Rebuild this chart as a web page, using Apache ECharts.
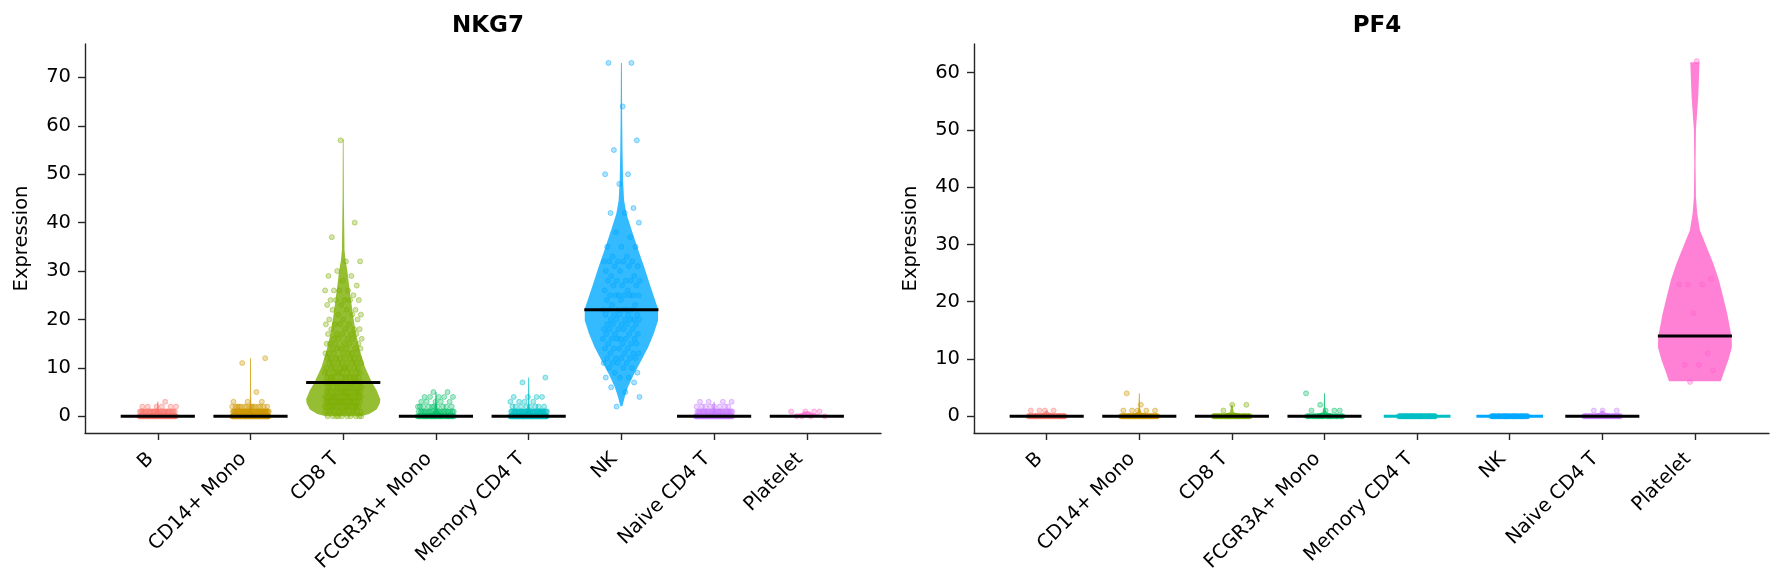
<!DOCTYPE html>
<html>
<head>
<meta charset="utf-8">
<script src="https://cdn.jsdelivr.net/npm/echarts@6/dist/echarts.min.js"></script>
<style>
html,body{margin:0;padding:0;background:#fff;}
#chart{width:1783px;height:583px;}
</style>
</head>
<body>
<div id="chart"></div>
<script>
// ---------- data ----------
const categories = ['B', 'CD14+ Mono', 'CD8 T', 'FCGR3A+ Mono', 'Memory CD4 T', 'NK', 'Naive CD4 T', 'Platelet'];
const genes = ['NKG7', 'PF4'];
const yTicksNKG7 = [0, 10, 20, 30, 40, 50, 60, 70];
const yTicksPF4 = [0, 10, 20, 30, 40, 50, 60];

// median expression per category (null = not drawn)
const nkg7Medians = [0, 0, 7, 0, 0, 22, 0, 0];
const pf4Medians = [0, 0, 0, 0, null, null, 0, 14];

// cell expression values per category: [value, number of cells]
const nkg7PointCounts = [
  [[0, 60], [1, 30], [2, 6], [3, 1]],
  [[0, 80], [1, 40], [2, 15], [3, 3], [5, 1], [11, 1], [12, 1]],
  [[0, 10], [1, 13], [2, 16], [3, 17], [4, 16], [5, 15], [6, 13], [7, 12], [8, 11], [9, 10], [10, 9], [11, 8], [12, 8], [13, 7], [14, 6], [15, 6], [16, 5], [17, 5], [18, 4], [19, 4], [20, 3], [21, 3], [22, 3], [23, 2], [24, 5], [25, 1], [26, 4], [27, 1], [28, 1], [29, 2], [30, 1], [32, 2], [37, 1], [40, 1], [57, 1]],
  [[0, 40], [1, 20], [2, 10], [3, 5], [4, 5], [5, 2]],
  [[0, 80], [1, 35], [2, 8], [3, 4], [4, 4], [7, 1], [8, 1]],
  [[2, 1], [4, 1], [5, 1], [6, 1], [7, 1], [8, 3], [9, 2], [10, 3], [11, 4], [12, 5], [13, 4], [14, 4], [15, 4], [16, 6], [17, 4], [18, 5], [19, 5], [20, 6], [21, 5], [22, 6], [23, 2], [24, 2], [25, 7], [26, 2], [27, 3], [28, 5], [29, 2], [30, 2], [31, 3], [32, 5], [33, 2], [35, 3], [37, 1], [38, 1], [40, 1], [42, 2], [43, 1], [48, 1], [50, 2], [55, 1], [57, 1], [64, 1], [73, 2]],
  [[0, 70], [1, 30], [2, 8], [3, 4]],
  [[0, 4], [1, 4]]
];
const pf4PointCounts = [
  [[0, 60], [1, 4]],
  [[0, 60], [1, 5], [2, 1], [4, 1]],
  [[0, 50], [1, 1], [2, 2]],
  [[0, 30], [1, 4], [2, 1], [4, 1]],
  [[0, 60]],
  [[0, 50]],
  [[0, 50], [1, 3]],
  [[6, 1], [8, 1], [9, 2], [11, 1], [18, 1], [23, 3], [24, 1], [62, 1]]
];

// violin outlines: [expression value, half width of the density (category units)]
const nkg7Violins = [
  [[0, 0.38], [0.25, 0.12], [0.6, 0.03], [1.2, 0.012], [3, 0.006]],
  [[0, 0.38], [0.25, 0.15], [0.6, 0.04], [1.2, 0.015], [2.5, 0.008], [5, 0.006], [12, 0.005]],
  [[0, 0.19], [0.5, 0.28], [1.4, 0.36], [2.7, 0.395], [3.5, 0.40], [5.4, 0.36], [7.0, 0.31], [10.2, 0.234], [13.6, 0.18], [17.1, 0.137], [20.5, 0.108], [24.7, 0.079], [27.4, 0.061], [30.2, 0.043], [32.2, 0.025], [34.3, 0.014], [44.6, 0.007], [57.2, 0.004]],
  [[0, 0.38], [0.25, 0.15], [0.6, 0.05], [1.2, 0.02], [2.5, 0.01], [5, 0.006]],
  [[0, 0.38], [0.25, 0.14], [0.6, 0.04], [1.2, 0.015], [2.5, 0.008], [8, 0.005]],
  [[2.1, 0.008], [2.3, 0.014], [4.0, 0.036], [6.1, 0.072], [8.8, 0.137], [11.6, 0.216], [14.3, 0.29], [17.1, 0.35], [19.8, 0.395], [22.2, 0.395], [26.7, 0.316], [30.9, 0.245], [35.0, 0.17], [39.1, 0.10], [41.9, 0.054], [44.6, 0.029], [48.8, 0.018], [55, 0.012], [62, 0.008], [73, 0.005]],
  [[0, 0.38], [0.25, 0.12], [0.6, 0.03], [1.2, 0.012], [3, 0.006]],
  [[0, 0.4], [0.3, 0.15], [0.7, 0.05], [1, 0.03]]
];
const pf4Violins = [
  [[0, 0.38], [0.3, 0.1], [0.7, 0.02], [1, 0.01]],
  [[0, 0.38], [0.3, 0.1], [0.7, 0.02], [1.5, 0.008], [4, 0.005]],
  [[0, 0.38], [0.3, 0.1], [0.7, 0.02], [2, 0.006]],
  [[0, 0.38], [0.3, 0.1], [0.7, 0.02], [1.5, 0.008], [4, 0.005]],
  [[0, 0.36]],
  [[0, 0.36]],
  [[0, 0.38], [0.3, 0.1], [0.7, 0.02], [1, 0.01]],
  [[6.1, 0.28], [8.0, 0.32], [9.8, 0.36], [12.1, 0.40], [13.9, 0.396], [17.9, 0.349], [20.8, 0.306], [23.8, 0.259], [26.7, 0.198], [29.6, 0.126], [32.5, 0.054], [35.4, 0.025], [38.3, 0.011], [44.2, 0.007], [50.0, 0.011], [55.8, 0.036], [61.8, 0.05]]
];

// ---------- styling ----------
const palette = ['#F8766D', '#CD9600', '#7CAE00', '#00BE67', '#00BFC4', '#00A9FF', '#C77CFF', '#FF61CC'];
const FONT = 'DejaVu Sans';
const AXIS_COLOR = '#262626';
const LABEL_SIZE = 19.5;

function rgba(hex, a) {
  const n = parseInt(hex.slice(1), 16);
  return 'rgba(' + ((n >> 16) & 255) + ',' + ((n >> 8) & 255) + ',' + (n & 255) + ',' + a + ')';
}

const catIdx = categories.map((c, i) => i);

function xAxisFor(gi) {
  return {
    gridIndex: gi, type: 'value', min: -0.785, max: 7.8,
    axisLine: { show: true, onZero: false, lineStyle: { color: AXIS_COLOR, width: 1.4 } },
    axisTick: { show: true, customValues: catIdx, length: 7, lineStyle: { color: AXIS_COLOR, width: 1.4 } },
    axisLabel: {
      customValues: catIdx, formatter: v => categories[Math.round(v)],
      rotate: 45, fontSize: LABEL_SIZE, fontFamily: FONT, color: '#000', margin: 16,
      padding: [0, 10, 0, 0]
    },
    splitLine: { show: false }
  };
}
function yAxisFor(gi, min, max, ticks) {
  return {
    gridIndex: gi, type: 'value', min: min, max: max,
    name: 'Expression', nameLocation: 'middle', nameRotate: 90, nameGap: 53,
    nameTextStyle: { fontSize: LABEL_SIZE, fontFamily: FONT, color: '#000' },
    axisLine: { show: true, onZero: false, lineStyle: { color: AXIS_COLOR, width: 1.4 } },
    axisTick: { show: true, customValues: ticks, length: 7, lineStyle: { color: AXIS_COLOR, width: 1.4 } },
    axisLabel: { customValues: ticks, fontSize: LABEL_SIZE, fontFamily: FONT, color: '#000', margin: 14 },
    splitLine: { show: false }
  };
}

const series = [];
function buildPanel(gi, counts, violins, medians) {
  // violins
  series.push({
    type: 'custom', xAxisIndex: gi, yAxisIndex: gi, silent: true, z: 1,
    data: catIdx.map(i => [i, 0]),
    renderItem: function (params, api) {
      const i = api.value(0);
      const prof = violins[i];
      const col = palette[i];
      if (prof.length === 1) {
        const a = api.coord([i - prof[0][1], prof[0][0]]);
        const b = api.coord([i + prof[0][1], prof[0][0]]);
        return { type: 'line', shape: { x1: a[0], y1: a[1], x2: b[0], y2: b[1] }, style: { stroke: col, lineWidth: 3 } };
      }
      const pts = [];
      prof.forEach(p => pts.push(api.coord([i + p[1], p[0]])));
      for (let k = prof.length - 1; k >= 0; k--) pts.push(api.coord([i - prof[k][1], prof[k][0]]));
      return { type: 'polygon', shape: { points: pts }, style: { fill: rgba(col, 0.8), stroke: null } };
    }
  });
  // jittered cells
  counts.forEach((rows, i) => {
    const data = [];
    let k = 0;
    rows.forEach(r => {
      for (let j = 0; j < r[1]; j++) {
        const off = (((k * 0.6180339887 + 0.37) % 1) - 0.5) * 0.4; // even spread over the jitter band
        data.push([i + off, r[0]]);
        k++;
      }
    });
    series.push({
      type: 'scatter', xAxisIndex: gi, yAxisIndex: gi, silent: true, z: 2,
      symbol: 'circle', symbolSize: 5, data: data,
      itemStyle: { color: rgba(palette[i], 0.4), borderColor: rgba(palette[i], 0.55), borderWidth: 1 }
    });
  });
  // median lines
  series.push({
    type: 'custom', xAxisIndex: gi, yAxisIndex: gi, silent: true, z: 3,
    data: catIdx.filter(i => medians[i] !== null).map(i => [i, medians[i]]),
    renderItem: function (params, api) {
      const i = api.value(0), m = api.value(1);
      const a = api.coord([i - 0.4, m]);
      const b = api.coord([i + 0.4, m]);
      return { type: 'line', shape: { x1: a[0], y1: a[1], x2: b[0], y2: b[1] }, style: { stroke: '#000', lineWidth: 3 } };
    }
  });
}
buildPanel(0, nkg7PointCounts, nkg7Violins, nkg7Medians);
buildPanel(1, pf4PointCounts, pf4Violins, pf4Medians);

const option = {
  backgroundColor: '#fff',
  animation: false,
  title: [
    { text: genes[0], left: 483, textAlign: 'center', top: 10, textStyle: { fontSize: 23, fontWeight: 'bold', fontFamily: FONT, color: '#000' } },
    { text: genes[1], left: 1372, textAlign: 'center', top: 10, textStyle: { fontSize: 23, fontWeight: 'bold', fontFamily: FONT, color: '#000' } }
  ],
  grid: [
    { left: 85, right: 902, top: 44, bottom: 150 },
    { left: 974, right: 14, top: 44, bottom: 150 }
  ],
  xAxis: [xAxisFor(0), xAxisFor(1)],
  yAxis: [yAxisFor(0, -3.45, 76.9, yTicksNKG7), yAxisFor(1, -2.92, 65.0, yTicksPF4)],
  series: series
};

const chart = echarts.init(document.getElementById('chart'), null, { renderer: 'canvas' });
chart.setOption(option);
</script>
</body>
</html>
